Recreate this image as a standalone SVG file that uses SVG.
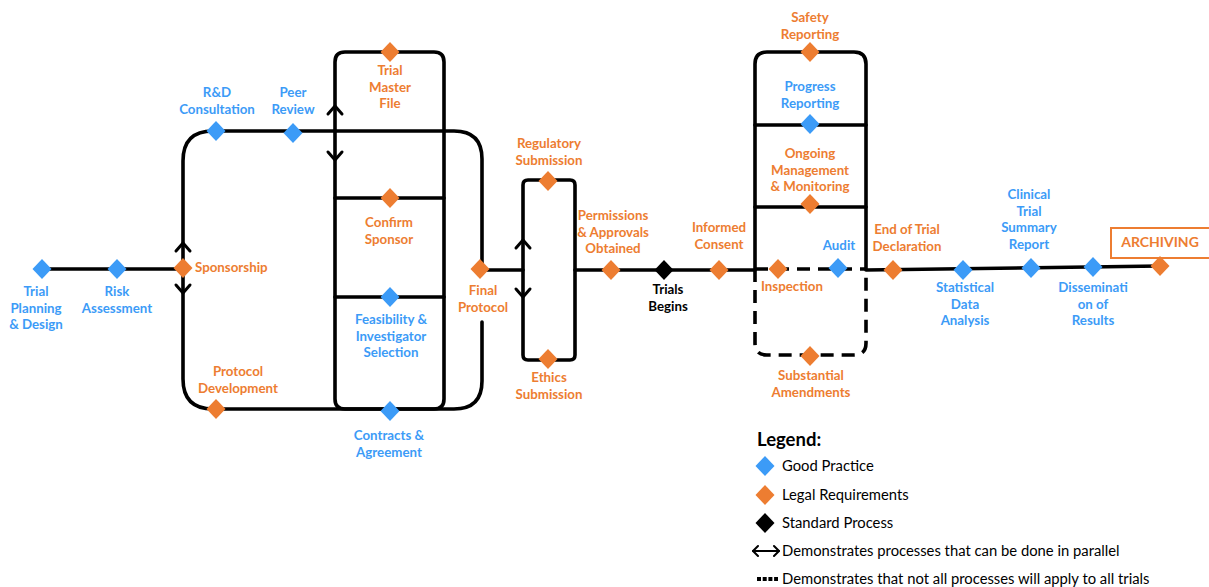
<svg xmlns="http://www.w3.org/2000/svg" xmlns:xlink="http://www.w3.org/1999/xlink" width="1209" height="587" viewBox="0 0 1209 587">
<style>
.ln{fill:none;stroke:#000;stroke-width:3.6;stroke-linecap:round;stroke-linejoin:round}
.ds{stroke-dasharray:13 8;stroke-linecap:butt}
.ch{fill:none;stroke:#000;stroke-width:3;stroke-linecap:round;stroke-linejoin:round}
.b{fill:#3C9BF7}.o{fill:#ED7D31}.k{fill:#000}
text{font-family:Lato,"Open Sans","DejaVu Sans",sans-serif;font-weight:700;font-size:13.3px;text-anchor:middle}
.tb{fill:#3C9BF7}.to{fill:#ED7D31}.tk{fill:#000}
.leg{font-weight:400;font-size:14.8px;text-anchor:start;fill:#000}
</style>
<defs>
<path id="dm" d="M0,-10 L9.5,0 L0,10 L-9.5,0Z"/>
<path id="chev" d="M-7,8 L0,0 L7,8"/>
</defs>
<rect width="1209" height="587" fill="#fff"/>
<g id="connectors">
<path class="ln" d="M42,269 H183"/>
<path class="ln" d="M482,269 V159 Q482,131 454,131 H213 Q183,131 183,161 V379 Q183,409 213,409 H454 Q482,409 482,381 V322"/>
<path class="ln" d="M345,52 H434 Q444,52 444,62 V399 Q444,409 434,409 H345 Q335,409 335,399 V62 Q335,52 345,52 Z"/>
<path class="ln" d="M335,198 H444 M335,297 H444"/>
<path class="ln" d="M480,270 H523"/>
<path class="ln" d="M528,180 H570 Q575,180 575,185 V355 Q575,360 570,360 H528 Q523,360 523,355 V185 Q523,180 528,180 Z"/>
<path class="ln" d="M575,270 H755"/>
<path class="ln" d="M755,269 V64 Q755,52 767,52 H854 Q866,52 866,64 V269"/>
<path class="ln" d="M755,125 H866 M755,207 H866"/>
<path class="ln ds" d="M755,269 H866"/>
<path class="ln ds" d="M755,269 V343 Q755,355 767,355 H854 Q866,355 866,343 V269"/>
<path class="ln" d="M866,270 L1160,266"/>
<use href="#chev" class="ch" transform="translate(183,243)"/>
<use href="#chev" class="ch" transform="translate(183,293) rotate(180)"/>
<use href="#chev" class="ch" transform="translate(335,106)"/>
<use href="#chev" class="ch" transform="translate(335,160) rotate(180)"/>
<use href="#chev" class="ch" transform="translate(523,240)"/>
<use href="#chev" class="ch" transform="translate(523,297) rotate(180)"/>
</g>
<g id="n-trial-planning"><use href="#dm" class="b" x="42" y="269"/><text class="tb" x="36" y="296">Trial<tspan x="36" dy="16.7">Planning</tspan><tspan x="36" dy="16.7">&amp; Design</tspan></text></g>
<g id="n-risk"><use href="#dm" class="b" x="117" y="269"/><text class="tb" x="117" y="296">Risk<tspan x="117" dy="16.7">Assessment</tspan></text></g>
<g id="n-sponsorship"><use href="#dm" class="o" x="183" y="268"/><text class="to" x="195" y="272" style="text-anchor:start">Sponsorship</text></g>
<g id="n-rd"><use href="#dm" class="b" x="216" y="131"/><text class="tb" x="217" y="97">R&amp;D<tspan x="217" dy="16.7">Consultation</tspan></text></g>
<g id="n-peer"><use href="#dm" class="b" x="293" y="133"/><text class="tb" x="293" y="97">Peer<tspan x="293" dy="16.7">Review</tspan></text></g>
<g id="n-tmf"><use href="#dm" class="o" x="390" y="52"/><text class="to" x="390" y="75">Trial<tspan x="390" dy="16.7">Master</tspan><tspan x="390" dy="16.7">File</tspan></text></g>
<g id="n-confirm"><use href="#dm" class="o" x="390" y="198"/><text class="to" x="389" y="227">Confirm<tspan x="389" dy="16.7">Sponsor</tspan></text></g>
<g id="n-feasibility"><use href="#dm" class="b" x="390" y="297"/><text class="tb" x="391" y="324">Feasibility &amp;<tspan x="391" dy="16.5">Investigator</tspan><tspan x="391" dy="16.5">Selection</tspan></text></g>
<g id="n-contracts"><use href="#dm" class="b" x="390" y="411"/><text class="tb" x="389" y="440">Contracts &amp;<tspan x="389" dy="16.5">Agreement</tspan></text></g>
<g id="n-protocol-dev"><use href="#dm" class="o" x="216" y="409"/><text class="to" x="238" y="376">Protocol<tspan x="238" dy="16.7">Development</tspan></text></g>
<g id="n-final"><use href="#dm" class="o" x="480" y="269"/><text class="to" x="483" y="295">Final<tspan x="483" dy="16.7">Protocol</tspan></text></g>
<g id="n-regulatory"><use href="#dm" class="o" x="548" y="181"/><text class="to" x="549" y="148">Regulatory<tspan x="549" dy="16.5">Submission</tspan></text></g>
<g id="n-ethics"><use href="#dm" class="o" x="548" y="359"/><text class="to" x="549" y="382">Ethics<tspan x="549" dy="16.7">Submission</tspan></text></g>
<g id="n-permissions"><use href="#dm" class="o" x="611" y="270"/><text class="to" x="613" y="220">Permissions<tspan x="613" dy="16.5">&amp; Approvals</tspan><tspan x="613" dy="16.5">Obtained</tspan></text></g>
<g id="n-trials-begins"><use href="#dm" class="k" x="664" y="270"/><text class="tk" x="668" y="294">Trials<tspan x="668" dy="16.5">Begins</tspan></text></g>
<g id="n-consent"><use href="#dm" class="o" x="719" y="270"/><text class="to" x="719" y="232">Informed<tspan x="719" dy="16.5">Consent</tspan></text></g>
<g id="n-safety"><use href="#dm" class="o" x="810" y="52"/><text class="to" x="810" y="22">Safety<tspan x="810" dy="16.5">Reporting</tspan></text></g>
<g id="n-progress"><use href="#dm" class="b" x="810" y="124"/><text class="tb" x="810" y="91">Progress<tspan x="810" dy="16.5">Reporting</tspan></text></g>
<g id="n-ongoing"><use href="#dm" class="o" x="810" y="204"/><text class="to" x="810" y="158">Ongoing<tspan x="810" dy="16.5">Management</tspan><tspan x="810" dy="16.5">&amp; Monitoring</tspan></text></g>
<g id="n-inspection"><use href="#dm" class="o" x="778" y="269"/><text class="to" x="792" y="291">Inspection</text></g>
<g id="n-audit"><use href="#dm" class="b" x="838" y="268"/><text class="tb" x="839" y="250">Audit</text></g>
<g id="n-amendments"><use href="#dm" class="o" x="810" y="356"/><text class="to" x="811" y="380">Substantial<tspan x="811" dy="16.5">Amendments</tspan></text></g>
<g id="n-end"><use href="#dm" class="o" x="893" y="270"/><text class="to" x="907" y="234">End of Trial<tspan x="907" dy="16.5">Declaration</tspan></text></g>
<g id="n-statistical"><use href="#dm" class="b" x="963" y="270"/><text class="tb" x="965" y="292">Statistical<tspan x="965" dy="16.5">Data</tspan><tspan x="965" dy="16.5">Analysis</tspan></text></g>
<g id="n-summary"><use href="#dm" class="b" x="1031" y="268"/><text class="tb" x="1029" y="199">Clinical<tspan x="1029" dy="16.5">Trial</tspan><tspan x="1029" dy="16.5">Summary</tspan><tspan x="1029" dy="16.5">Report</tspan></text></g>
<g id="n-dissemination"><use href="#dm" class="b" x="1093" y="267"/><text class="tb" x="1093" y="292">Disseminati<tspan x="1093" dy="16.5">on of</tspan><tspan x="1093" dy="16.5">Results</tspan></text></g>
<g id="n-archiving"><rect x="1111" y="228" width="100" height="30" fill="#fff" stroke="#ED7D31" stroke-width="2"/><text class="to" x="1160" y="247" style="font-size:14px">ARCHIVING</text><use href="#dm" class="o" x="1160" y="266"/></g>
<g id="legend">
<text x="757" y="446" style="text-anchor:start;font-size:18.5px;fill:#000">Legend:</text>
<use href="#dm" class="b" x="765" y="466"/><text class="leg" x="782" y="471">Good Practice</text>
<use href="#dm" class="o" x="765" y="495"/><text class="leg" x="782" y="500">Legal Requirements</text>
<use href="#dm" class="k" x="765" y="523"/><text class="leg" x="782" y="528">Standard Process</text>
<path class="ch" d="M753,551 H779" style="stroke-width:2"/>
<path class="ch" d="M758,546 L753,551 L758,556 M774,546 L779,551 L774,556" style="stroke-width:2"/>
<text class="leg" x="782" y="556">Demonstrates processes that can be done in parallel</text>
<path d="M757,579 H778" stroke="#000" stroke-width="4" stroke-dasharray="4 1.7"/>
<text class="leg" x="782" y="584">Demonstrates that not all processes will apply to all trials</text>
</g>
</svg>
